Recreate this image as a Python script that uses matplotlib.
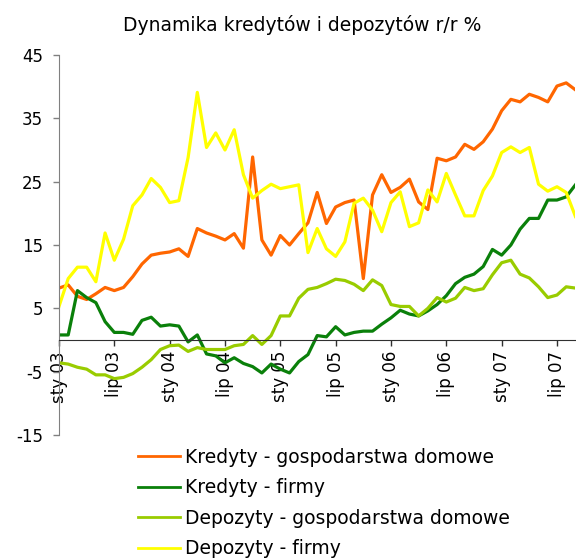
import matplotlib
matplotlib.use('Agg')
import matplotlib.pyplot as plt
import numpy as np

# monthly data, sty 03 .. wrz 07 (y/y %)
kredyty_gd = [8.2, 8.7, 6.9, 6.4, 7.3, 8.3, 7.8, 8.3, 10.0, 12.0, 13.4, 13.7, 13.9, 14.4, 13.2,
              17.6, 16.9, 16.4, 15.8, 16.8, 14.5, 28.9, 15.8, 13.4, 16.5, 15.0, 16.8, 18.5, 23.3,
              18.4, 21.0, 21.7, 22.1, 9.7, 22.9, 26.1, 23.3, 24.1, 25.4, 21.8, 20.6, 28.7, 28.3,
              28.9, 30.9, 30.1, 31.3, 33.3, 36.2, 38.0, 37.6, 38.8, 38.3, 37.6, 40.1, 40.6, 39.5]
kredyty_firmy = [0.8, 0.8, 7.8, 6.7, 5.9, 2.9, 1.2, 1.2, 0.9, 3.1, 3.6, 2.2, 2.4, 2.2, -0.3,
                 0.8, -2.2, -2.5, -3.6, -2.8, -3.7, -4.2, -5.2, -3.8, -4.6, -5.2, -3.4, -2.3, 0.7,
                 0.5, 2.1, 0.8, 1.2, 1.4, 1.4, 2.5, 3.5, 4.7, 4.1, 3.8, 4.6, 5.6, 7.0,
                 8.9, 9.9, 10.4, 11.6, 14.3, 13.4, 15.0, 17.5, 19.2, 19.2, 22.1, 22.1, 22.6, 24.5]
depozyty_gd = [-3.6, -3.8, -4.3, -4.6, -5.5, -5.5, -6.1, -5.9, -5.3, -4.3, -3.1, -1.5, -0.9, -0.8, -1.8,
               -1.2, -1.5, -1.5, -1.5, -0.9, -0.7, 0.7, -0.7, 0.7, 3.8, 3.8, 6.6, 8.0, 8.3,
               8.9, 9.6, 9.4, 8.8, 7.8, 9.5, 8.6, 5.6, 5.3, 5.3, 3.8, 5.0, 6.7, 6.0,
               6.6, 8.3, 7.8, 8.1, 10.3, 12.2, 12.6, 10.4, 9.8, 8.4, 6.7, 7.1, 8.4, 8.2]
depozyty_firmy = [5.3, 9.7, 11.5, 11.5, 9.2, 16.9, 12.6, 15.9, 21.2, 22.9, 25.5, 24.1, 21.7, 22.0, 28.8,
                  39.1, 30.4, 32.7, 30.0, 33.2, 26.1, 22.4, 23.6, 24.6, 23.9, 24.2, 24.5, 13.8, 17.6,
                  14.4, 13.2, 15.5, 21.6, 22.4, 20.5, 17.1, 21.7, 23.4, 17.9, 18.5, 23.7, 21.8, 26.3,
                  22.9, 19.6, 19.6, 23.6, 25.9, 29.6, 30.5, 29.6, 30.4, 24.6, 23.5, 24.2, 23.3, 19.5]

tick_pos = [0, 6, 12, 18, 24, 30, 36, 42, 48, 54]
tick_labels = ['sty 03', 'lip 03', 'sty 04', 'lip 04', 'sty 05', 'lip 05',
               'sty 06', 'lip 06', 'sty 07', 'lip 07']

series = [
    ('Kredyty - gospodarstwa domowe', kredyty_gd, '#FF6600'),
    ('Kredyty - firmy', kredyty_firmy, '#0A800A'),
    ('Depozyty - gospodarstwa domowe', depozyty_gd, '#99CC00'),
    ('Depozyty - firmy', depozyty_firmy, '#FFFF00'),
]

plt.rcParams['font.family'] = 'DejaVu Sans'
plt.rcParams['axes.unicode_minus'] = False  # plain hyphen like the original

fig = plt.figure(figsize=(5.76, 5.59), dpi=100)
ax = fig.add_axes([0.1024, 0.2218, 0.8966, 0.6798])

x = np.arange(len(kredyty_gd))
for name, vals, col in series:
    ax.plot(x, vals, color=col, lw=2.3, label=name)

ax.set_xlim(0, 56)
ax.set_ylim(-15, 45)
ax.set_yticks([-15, -5, 5, 15, 25, 35, 45])
ax.set_xticks(tick_pos)
ax.set_xticklabels(tick_labels)

# axes like in excel: x axis crosses at 0
ax.spines['top'].set_visible(False)
ax.spines['right'].set_visible(False)
ax.spines['bottom'].set_position(('data', 0))
ax.spines['bottom'].set_color('#303030')
ax.spines['left'].set_color('#808080')
ax.tick_params(axis='y', direction='out', length=4.5, width=1, color='#808080',
               labelsize=12, pad=7)
ax.tick_params(axis='x', direction='out', length=4, width=1, color='#303030',
               labelsize=12, pad=4, labelrotation=90)
for lbl in ax.get_xticklabels():
    lbl.set_ha('center')

fig.text(0.525, 0.9555, 'Dynamika kredytów i depozytów r/r %', ha='center', va='center',
         fontsize=13.5)

leg = fig.legend(loc='upper left', bbox_to_anchor=(0.2396, 0.199), frameon=False, fontsize=13.5,
                 handlelength=2.24, handletextpad=0.27, labelspacing=0.61, borderpad=0,
                 borderaxespad=0)
for h in leg.get_lines():
    h.set_linewidth(2)

plt.savefig('out.png', dpi=100)
